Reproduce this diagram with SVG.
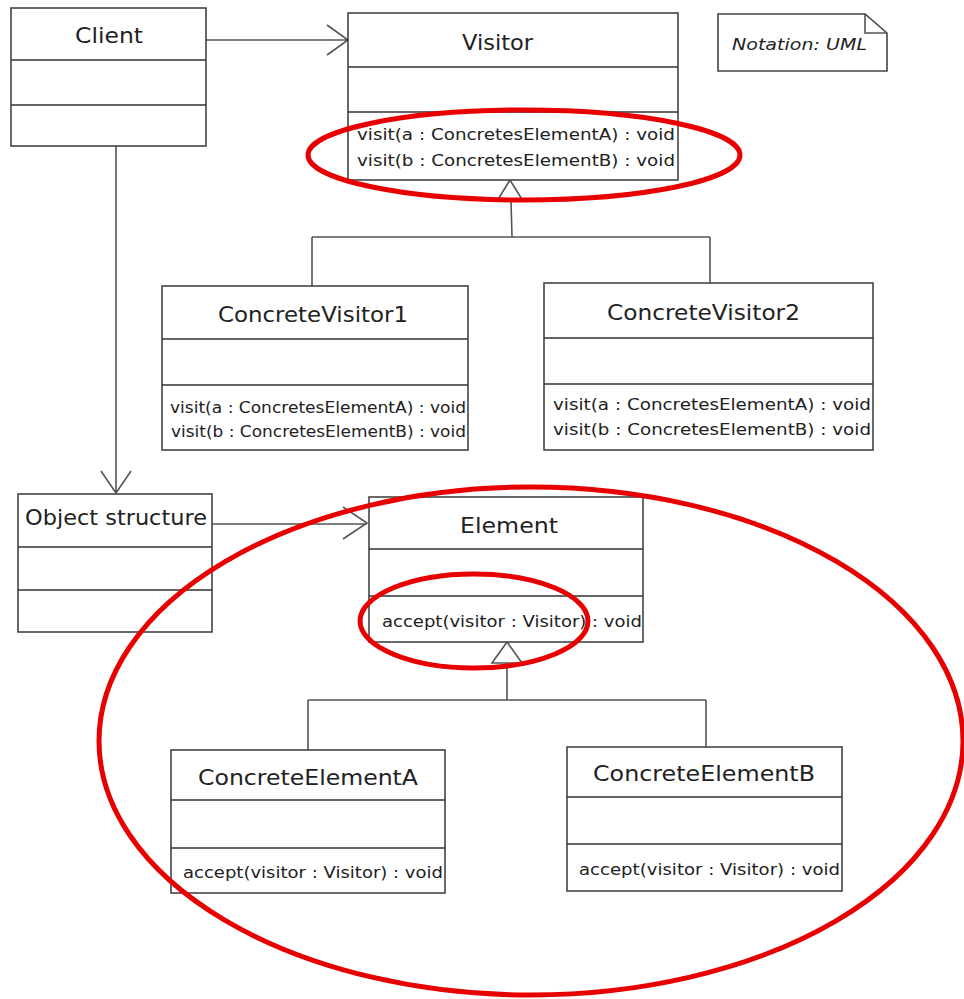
<svg xmlns="http://www.w3.org/2000/svg" width="964" height="999" viewBox="0 0 964 999">
<style>
.box{fill:#fff;stroke:#444;stroke-width:1.6}
.div{stroke:#333;stroke-width:1.6}
.t{font-family:"DejaVu Sans","Liberation Sans",sans-serif;fill:#222;font-size:21px}
.m{font-family:"DejaVu Sans","Liberation Sans",sans-serif;fill:#222;font-size:15px}
.ln{fill:none;stroke:#555;stroke-width:1.6}
.red{fill:none;stroke:#e80000;stroke-width:5}
</style>
<g id="connectors">
<path class="ln" d="M206,40 H348 M327,25 L348,40 L327,55"/>
<path class="ln" d="M116,146 V493 M101,471 L116,493 L131,471"/>
<path class="ln" d="M212,524 H367 M343,507 L367,523 L343,539"/>
<path class="ln" d="M510,180 L497,201 H523 Z M511,201 L512,237 M312,237 H710 M312,237 V286 M710,237 V283"/>
<path class="ln" d="M507,642 L492,663 H522 Z M507,663 V700 M308,700 H706 M308,700 V750 M706,700 V747"/>
</g>
<g id="client">
<rect class="box" x="11" y="8" width="195" height="138"/>
<path class="div" d="M11,60 H206 M11,105 H206"/>
<text class="t" x="75" y="43" textLength="68" lengthAdjust="spacingAndGlyphs">Client</text>
</g>
<g id="visitor">
<rect class="box" x="348" y="13" width="330" height="167"/>
<path class="div" d="M348,67 H678 M348,112 H678"/>
<text class="t" x="462" y="50" textLength="71" lengthAdjust="spacingAndGlyphs">Visitor</text>
<text class="m" x="357" y="140" textLength="318" lengthAdjust="spacingAndGlyphs">visit(a : ConcretesElementA) : void</text>
<text class="m" x="357" y="166" textLength="318" lengthAdjust="spacingAndGlyphs">visit(b : ConcretesElementB) : void</text>
</g>
<g id="note">
<path class="box" d="M718,14 H865 L887,33 V71 H718 Z"/>
<path class="ln" d="M865,14 V33 H887"/>
<text class="m" x="732" y="50" font-style="italic" textLength="135" lengthAdjust="spacingAndGlyphs">Notation: UML</text>
</g>
<g id="concretevisitor1">
<rect class="box" x="162" y="286" width="306" height="164"/>
<path class="div" d="M162,339 H468 M162,385 H468"/>
<text class="t" x="218" y="322" textLength="190" lengthAdjust="spacingAndGlyphs">ConcreteVisitor1</text>
<text class="m" x="170" y="413" textLength="296" lengthAdjust="spacingAndGlyphs">visit(a : ConcretesElementA) : void</text>
<text class="m" x="171" y="437" textLength="295" lengthAdjust="spacingAndGlyphs">visit(b : ConcretesElementB) : void</text>
</g>
<g id="concretevisitor2">
<rect class="box" x="544" y="283" width="329" height="167"/>
<path class="div" d="M544,338 H873 M544,384 H873"/>
<text class="t" x="607" y="320" textLength="193" lengthAdjust="spacingAndGlyphs">ConcreteVisitor2</text>
<text class="m" x="553" y="410" textLength="318" lengthAdjust="spacingAndGlyphs">visit(a : ConcretesElementA) : void</text>
<text class="m" x="553" y="435" textLength="318" lengthAdjust="spacingAndGlyphs">visit(b : ConcretesElementB) : void</text>
</g>
<g id="objectstructure">
<rect class="box" x="18" y="494" width="194" height="138"/>
<path class="div" d="M18,547 H212 M18,590 H212"/>
<text class="t" x="25" y="525" textLength="182" lengthAdjust="spacingAndGlyphs">Object structure</text>
</g>
<g id="element">
<rect class="box" x="369" y="497" width="274" height="145"/>
<path class="div" d="M369,549 H643 M369,596 H643"/>
<text class="t" x="460" y="533" textLength="98" lengthAdjust="spacingAndGlyphs">Element</text>
<text class="m" x="382" y="627" textLength="260" lengthAdjust="spacingAndGlyphs">accept(visitor : Visitor) : void</text>
</g>
<g id="concreteelementa">
<rect class="box" x="171" y="750" width="274" height="143"/>
<path class="div" d="M171,800 H445 M171,848 H445"/>
<text class="t" x="198" y="785" textLength="220" lengthAdjust="spacingAndGlyphs">ConcreteElementA</text>
<text class="m" x="183" y="878" textLength="260" lengthAdjust="spacingAndGlyphs">accept(visitor : Visitor) : void</text>
</g>
<g id="concreteelementb">
<rect class="box" x="567" y="747" width="275" height="144"/>
<path class="div" d="M567,797 H842 M567,844 H842"/>
<text class="t" x="593" y="781" textLength="222" lengthAdjust="spacingAndGlyphs">ConcreteElementB</text>
<text class="m" x="579" y="875" textLength="261" lengthAdjust="spacingAndGlyphs">accept(visitor : Visitor) : void</text>
</g>
<g id="highlights">
<ellipse class="red" cx="524" cy="155" rx="216" ry="45"/>
<ellipse class="red" cx="474" cy="621" rx="114" ry="47"/>
<ellipse class="red" cx="531" cy="741" rx="432" ry="254"/>
</g>
</svg>
